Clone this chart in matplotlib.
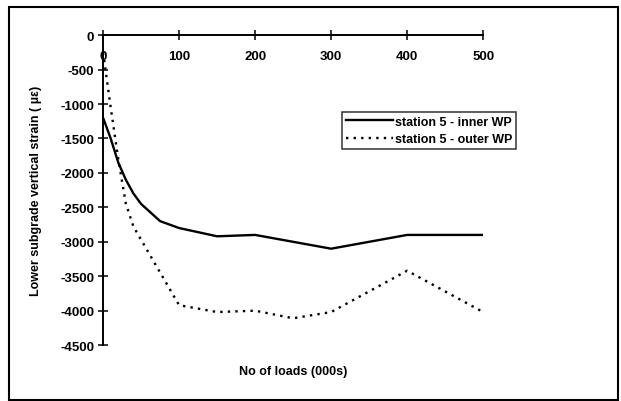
import numpy as np
import matplotlib.pyplot as plt
from matplotlib.patches import Rectangle

# data
loads_inner = [0, 10, 20, 30, 40, 50, 75, 100, 150, 200, 250, 300, 350, 400, 500]
strain_inner = [-1200, -1500, -1850, -2100, -2300, -2450, -2700, -2800, -2920, -2900, -3000, -3100, -3000, -2900, -2900]

loads_outer = [0, 10, 20, 30, 40, 100, 150, 200, 250, 300, 400, 500]
strain_outer = [-250, -1050, -1800, -2450, -2780, -3920, -4020, -4000, -4110, -4020, -3420, -4020]

xticks = [0, 100, 200, 300, 400, 500]
yticks = [0, -500, -1000, -1500, -2000, -2500, -3000, -3500, -4000, -4500]

plt.rcParams['font.family'] = ['Liberation Sans', 'DejaVu Sans']
plt.rcParams['font.weight'] = 'bold'
plt.rcParams['axes.unicode_minus'] = False

fig = plt.figure(figsize=(6.21, 4.02), dpi=100)
ax = fig.add_axes([0.166, 0.139, 0.612, 0.771])

ax.plot(loads_inner, strain_inner, color='black', lw=1.7, label='station 5 - inner WP')
ax.plot(loads_outer, strain_outer, color='black', lw=1.7, linestyle=(0, (1, 2.2)),
        label='station 5 - outer WP')

ax.set_xlim(0, 500)
ax.set_ylim(-4500, 0)
ax.spines['bottom'].set_position(('data', 0))
ax.spines['top'].set_visible(False)
ax.spines['right'].set_visible(False)
for s in ['bottom', 'left']:
    ax.spines[s].set_linewidth(1.4)

ax.set_xticks(xticks)
ax.set_yticks(yticks)
ax.tick_params(axis='both', direction='inout', length=7, width=1.1, labelsize=9.5)
ax.tick_params(axis='x', pad=7)
ax.tick_params(axis='y', pad=3)

ax.set_ylabel('Lower subgrade vertical strain ( µε)', fontsize=9, fontweight='bold')
ax.yaxis.set_label_coords(-0.16, 0.5)
ax.text(0.5, -0.083, 'No of loads (000s)', transform=ax.transAxes, ha='center',
        va='center', fontsize=9, fontweight='bold')

leg = ax.legend(loc='upper left', bbox_to_anchor=(0.629, 0.752), fontsize=9,
                frameon=True, fancybox=False, handlelength=3.8, handletextpad=0.1,
                borderpad=0.3, labelspacing=0.45, borderaxespad=0)
leg.get_frame().set_edgecolor('black')
leg.get_frame().set_linewidth(1.1)

fig.patches.append(Rectangle((9 / 621, 0.003), 609 / 621, 0.977, transform=fig.transFigure,
                             fill=False, edgecolor='black', lw=1.5))

fig.savefig('out.png', dpi=100)
